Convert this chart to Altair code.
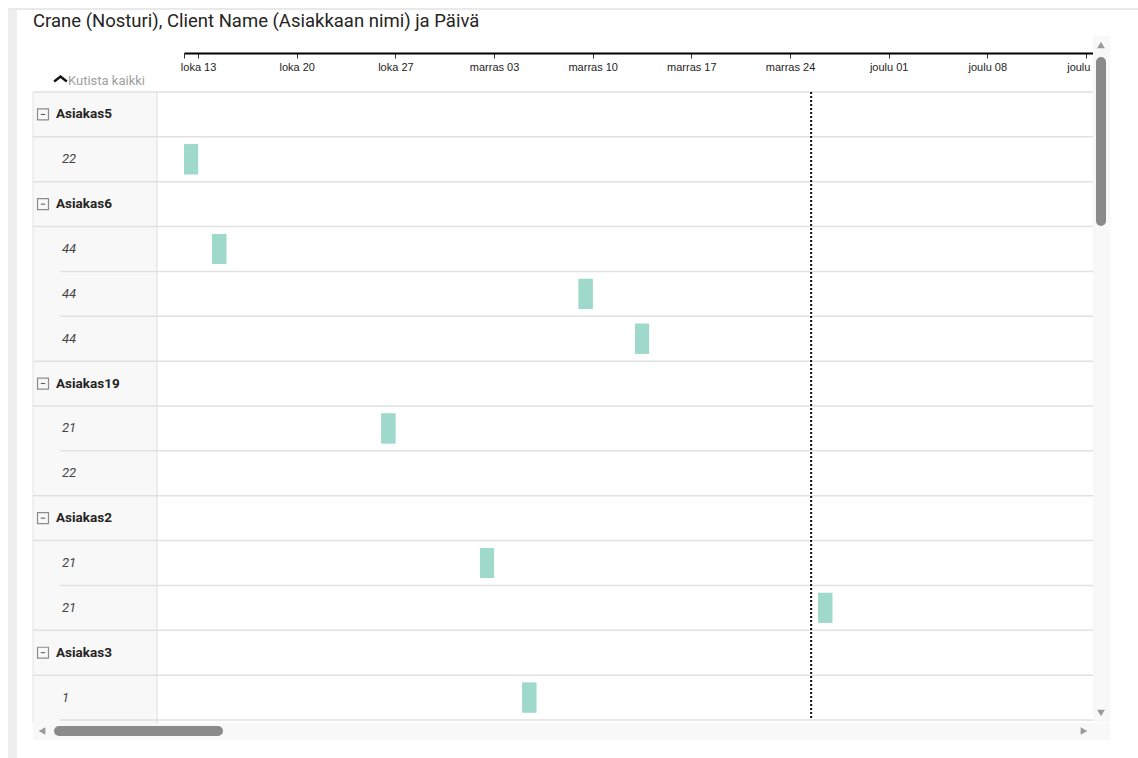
import altair as alt
import pandas as pd

# ---- data ----
row_labels = ["Asiakas5", "22", "Asiakas6", "44", "44", "44", "Asiakas19", "21", "22",
              "Asiakas2", "21", "21", "Asiakas3", "1"]
row_kinds = ["group", "item", "group", "item", "item", "item", "group", "item", "item",
             "group", "item", "item", "group", "item"]

task_row = [1, 3, 4, 5, 7, 10, 11, 13]
task_start = ["2019-10-12", "2019-10-14", "2019-11-09", "2019-11-13",
              "2019-10-26", "2019-11-02", "2019-11-26", "2019-11-05"]
task_end = ["2019-10-13", "2019-10-15", "2019-11-10", "2019-11-14",
            "2019-10-27", "2019-11-03", "2019-11-27", "2019-11-06"]

today = ["2019-11-25T12:00:00Z"]
axis_start = "2019-10-12T00:00:00"
axis_end = "2019-12-15T12:00:00"
tick_dates = ["2019-10-13", "2019-10-20", "2019-10-27", "2019-11-03", "2019-11-10",
              "2019-11-17", "2019-11-24", "2019-12-01", "2019-12-08", "2019-12-15"]
month_names = ["tammi", "helmi", "maalis", "huhti", "touko", "kesä", "heinä", "elo",
               "syys", "loka", "marras", "joulu"]
title_text = "Crane (Nosturi), Client Name (Asiakkaan nimi) ja Päivä"
collapse_text = "Kutista kaikki"

# ---- helpers ----
def dt(s):
    t = pd.Timestamp(s)
    return alt.DateTime(year=t.year, month=t.month, date=t.day, hours=t.hour,
                        minutes=t.minute, utc=True)

rows = pd.DataFrame({"row": list(range(len(row_labels))), "label": row_labels, "kind": row_kinds})
tasks = pd.DataFrame({"row": task_row, "start": task_start, "end": task_end})
today_df = pd.DataFrame({"t": today})

bounds = []
n = len(row_labels)
for b in range(n + 1):
    above = row_kinds[b - 1] if b > 0 else "group"
    below = row_kinds[b] if b < n else "item"
    bounds.append({"y": b - 0.5, "full": (above == "group") or (below == "group")})
bounds = pd.DataFrame(bounds)

one = pd.DataFrame({"k": [0]})

W, H = 909, 628
xscale = alt.Scale(type="utc", domain=[dt(axis_start), dt(axis_end)], nice=False)
yscale = alt.Scale(domain=[-0.5, n - 0.5], reverse=True, nice=False, zero=False)

label_expr = ("(datum.index == 0 || datum.index == 1) ? '' : "
              + str(month_names).replace('"', "'")
              + "[utcmonth(datum.value)] + ' ' + utcFormat(datum.value, '%d')")

axis_vals = [dt(axis_start)] + [dt(d) for d in tick_dates] + [dt(axis_end)]

X = alt.X("start:T", scale=xscale,
          axis=alt.Axis(orient="bottom", offset=-(H + 39), values=axis_vals,
                        labelExpr=label_expr, title=None, grid=False,
                        domainColor="#000000", domainWidth=2, tickColor="#333333",
                        tickWidth=1, tickSize=5, labelFontSize=11, labelColor="#252423",
                        labelFont="Liberation Sans", labelPadding=3,
                        labelFlush=False, labelOverlap=False))
Y = alt.Y("row:Q", scale=yscale, axis=None)

def pix_rect(x, x2, y, y2, color):
    return alt.Chart(one).mark_rect(color=color).encode(
        x=alt.value(x), x2=alt.value(x2), y=alt.value(y), y2=alt.value(y2))

def pix_rule(x, x2, y, y2, color, w=1, cap="butt"):
    return alt.Chart(one).mark_rule(color=color, strokeWidth=w, strokeCap=cap).encode(
        x=alt.value(x), x2=alt.value(x2), y=alt.value(y), y2=alt.value(y2))

def pix_point(x, y, shape, size, fill=None, stroke=None, sw=1):
    kw = dict(shape=shape, size=size, opacity=1)
    if fill:
        kw.update(filled=True, fill=fill, strokeWidth=0)
    else:
        kw.update(filled=False, stroke=stroke, strokeWidth=sw)
    return alt.Chart(one).mark_point(**kw).encode(x=alt.value(x), y=alt.value(y))

# bars (also carry the time axis)
bars = alt.Chart(tasks).mark_rule(color="#9fd9cb", strokeWidth=30).encode(
    x=X, x2="end:T", y=Y)

frame = [
    pix_rect(-176, -167, -83, 666, "#eeeeee"),
    pix_rule(-176, 954, -83, -83, "#e9e9e9", 2),
    pix_rect(-151, -27, 0, 631, "#f8f8f8"),
]

full_lines = alt.Chart(bounds[bounds.full]).mark_rule(color="#e1e1e1", strokeWidth=1.5).encode(
    x=alt.value(-151), x2=alt.value(W), y=alt.Y("y:Q", scale=yscale, axis=None))
ind_lines = alt.Chart(bounds[~bounds.full]).mark_rule(color="#e1e1e1", strokeWidth=1.5).encode(
    x=alt.value(-124), x2=alt.value(W), y=alt.Y("y:Q", scale=yscale, axis=None))

col_borders = [
    pix_rule(-27, -27, 0, 631, "#dddddd", 1),
    pix_rule(-151, -151, 0, 631, "#e4e4e4", 1),
]

today_line = alt.Chart(today_df).mark_rule(color="#111111", strokeWidth=2, strokeDash=[2, 2]).encode(
    x=alt.X("t:T", scale=xscale), y=alt.value(0), y2=alt.value(H))

groups = rows[rows.kind == "group"]
items = rows[rows.kind == "item"]

group_text = alt.Chart(groups).mark_text(
    align="left", baseline="middle", font="Roboto", fontSize=13.5, fontWeight="bold",
    color="#252423").encode(x=alt.value(-128), y=Y, text="label:N")
group_box = alt.Chart(groups).mark_point(shape="square", size=120, filled=False,
                                         stroke="#8c8c8c", strokeWidth=1.2, opacity=1).encode(
    x=alt.value(-141), y=Y)
group_minus = alt.Chart(groups).mark_point(shape="M-0.4,0H0.4", size=120, filled=False,
                                           stroke="#555555", strokeWidth=1, opacity=1).encode(
    x=alt.value(-141), y=Y)
item_text = alt.Chart(items).mark_text(
    align="left", baseline="middle", font="Roboto", fontSize=13, fontStyle="italic",
    color="#444444").encode(x=alt.value(-122), y=Y, text="label:N")

title = alt.Chart(one).mark_text(align="left", baseline="middle", font="Roboto", fontSize=18.5,
                                 color="#252423", text=title_text).encode(
    x=alt.value(-151), y=alt.value(-71))
collapse = alt.Chart(one).mark_text(align="left", baseline="middle", font="Roboto", fontSize=13,
                                    color="#a0a0a0", text=collapse_text).encode(
    x=alt.value(-116), y=alt.value(-11))
chevron = pix_point(-123.5, -13, "M-1,0.4L0,-0.4L1,0.4", 160, stroke="#111111", sw=2.4)

scroll = [
    pix_rect(W, 926, -56, 630, "#f8f8f8"),
    pix_rect(-151, 926, 631, 648, "#f8f8f8"),
    pix_rule(917, 917, -30, 129, "#8a8a8a", 10, "round"),
    pix_rule(-125, 34, 639, 639, "#8a8a8a", 10, "round"),
    pix_point(917, -47, "triangle-up", 60, fill="#9a9a9a"),
    pix_point(917, 621, "triangle-down", 60, fill="#9a9a9a"),
    pix_point(-142, 639, "triangle-left", 60, fill="#9a9a9a"),
    pix_point(900, 639, "triangle-right", 60, fill="#9a9a9a"),
]

chart = alt.layer(
    bars, *frame, full_lines, ind_lines, *col_borders, bars, today_line,
    group_box, group_minus, group_text, item_text, title, collapse, chevron, *scroll
).properties(
    width=W, height=H,
    autosize=alt.AutoSizeParams(type="none"),
    padding={"left": 184, "top": 92, "right": 1138 - 184 - W, "bottom": 758 - 92 - H},
    background="#ffffff",
).configure_view(stroke=None)

chart.save("out.html", embed_options={"renderer": "svg", "actions": False})
